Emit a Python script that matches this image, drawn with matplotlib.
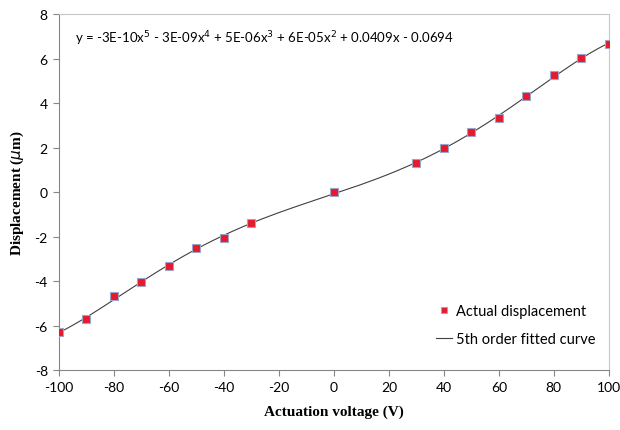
import numpy as np
import matplotlib.pyplot as plt

plt.rcParams["axes.unicode_minus"] = False

voltage = [-100, -90, -80, -70, -60, -50, -40, -30, 0, 30, 40, 50, 60, 70, 80, 90, 100]
displacement = [-6.31, -5.71, -4.69, -4.05, -3.30, -2.52, -2.06, -1.37, 0.0,
                1.31, 1.98, 2.68, 3.31, 4.30, 5.27, 6.03, 6.66]

# 5th order fit through the measured points
coef = np.polyfit(voltage, displacement, 5)
xfit = np.linspace(-100, 100, 400)
yfit = np.polyval(coef, xfit)

fig = plt.figure(figsize=(6.2, 4.31), dpi=100)
ax = fig.add_axes([0.095, 0.139, 0.887, 0.826])

ax.plot(xfit, yfit, color="#404040", lw=0.8, label="5th order fitted curve", zorder=2)
ax.plot(voltage, displacement, ls="none", marker="s", ms=5.8, mfc="#e8192c",
        mec="#9aa6c8", mew=0.8, label="Actual displacement", zorder=3)

ax.set_xlim(-100, 100)
ax.set_ylim(-8, 8)
ax.set_xticks(range(-100, 101, 20))
ax.set_yticks(range(-8, 9, 2))

tick_font = "Lato"
for lab in ax.get_xticklabels() + ax.get_yticklabels():
    lab.set_fontfamily(tick_font)
    lab.set_fontsize(10)

for side in ["left", "bottom"]:
    ax.spines[side].set_color("#868686")
for side in ["top", "right"]:
    ax.spines[side].set_color("#c8c8c8")
ax.tick_params(direction="out", length=4, color="#868686", pad=4)

ax.set_xlabel("Actuation voltage (V)", fontfamily="Liberation Serif",
              fontweight="bold", fontsize=11, labelpad=8)
ax.set_ylabel(r"Displacement ($\mu$m)", fontfamily="Liberation Serif",
              fontweight="bold", fontsize=11, labelpad=6)

ax.text(0.03, 0.935,
        r"y = -3E-10x$^5$ - 3E-09x$^4$ + 5E-06x$^3$ + 6E-05x$^2$ + 0.0409x - 0.0694",
        transform=ax.transAxes, fontfamily=tick_font, fontsize=9.5, va="center")

handles, labels = ax.get_legend_handles_labels()
leg = ax.legend(handles[::-1], labels[::-1], loc="lower right",
                bbox_to_anchor=(1.0, 0.03), frameon=False,
                prop={"family": tick_font, "size": 10.5}, handlelength=1.1,
                handletextpad=0.3, labelspacing=1.0, markerscale=0.85)

fig.savefig("out.png", dpi=100)
